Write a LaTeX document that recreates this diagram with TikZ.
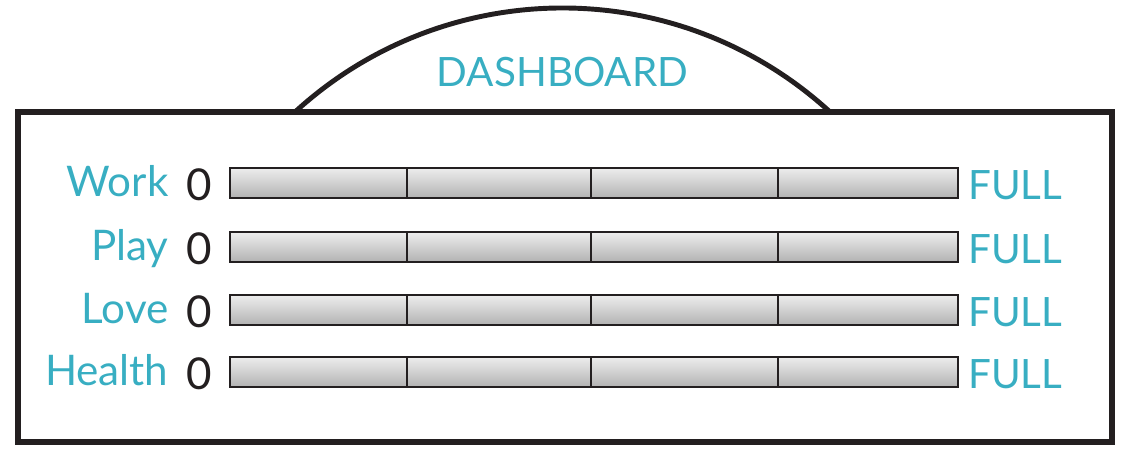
\documentclass[tikz,border=0pt]{standalone}
\usepackage{fontspec}
\setmainfont{Lato}
\usepackage{tikz}
\usetikzlibrary{positioning,calc}
\definecolor{dashteal}{RGB}{56,174,194}
\definecolor{framegray}{RGB}{35,31,32}
\tikzset{
  dashframe/.style={line width=2.9pt,draw=framegray},
  gauge/.style={rectangle,draw=framegray,line width=1.4pt,minimum width=14.56cm,minimum height=0.6cm,
    inner sep=0pt,outer sep=0pt,top color=black!7,bottom color=black!30},
  gaugetick/.style={line width=1.1pt,draw=framegray},
  rowlabel/.style={font=\fontsize{24}{28}\selectfont,text=dashteal,inner sep=0pt,anchor=base east},
  zerolabel/.style={font=\fontsize{25}{28}\selectfont,text=framegray,inner sep=0pt,anchor=base east},
  fulllabel/.style={font=\fontsize{23}{28}\selectfont,text=dashteal,inner sep=0pt,anchor=base west}
}

\begin{document}
\begin{tikzpicture}
  \useasboundingbox (0,0) rectangle (22.62,9.2);

  % dome on top of the panel
  \coordinate (domeL) at (5.90,6.96);
  \draw[dashframe,line width=2.8pt] (domeL) arc[start angle=132.5,end angle=47.5,radius=7.92cm];
  \node[font=\fontsize{23}{28}\selectfont,text=dashteal,inner sep=0pt,anchor=base] (title) at (11.25,7.46) {DASHBOARD};

  % panel
  \draw[dashframe] (0.36,6.96) rectangle (22.24,0.36);

  \foreach \i/\y/\lab in {1/5.54/Work,2/4.26/Play,3/3.00/Love,4/1.76/Health}{
    \node[gauge] (bar\i) at (11.88,\y) {};
    \foreach \f in {0.243,0.496,0.753}{
      \draw[gaugetick] ($(bar\i.north west)!\f!(bar\i.north east)$)
        -- ($(bar\i.south west)!\f!(bar\i.south east)$);
    }
    \node[zerolabel] (zero\i) at ($(bar\i.south west)+(-0.36,-0.04)$) {0};
    \node[rowlabel] (lab\i) at ($(zero\i.base west)+(-0.34,0.08)$) {\lab};
    \node[fulllabel] (full\i) at ($(bar\i.south east)+(0.2,-0.02)$) {FULL};
  }
\end{tikzpicture}
\end{document}
